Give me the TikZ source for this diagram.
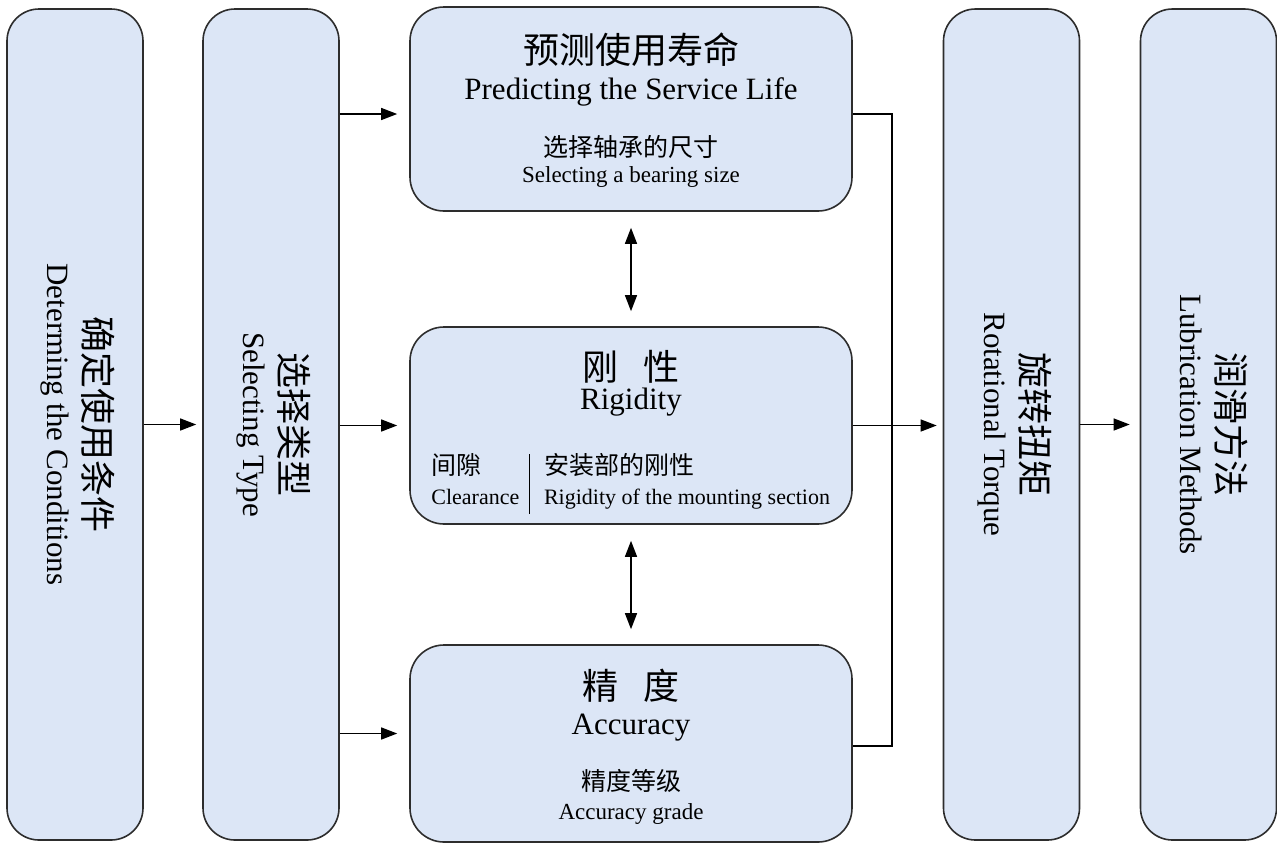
\documentclass[tikz,border=0pt]{standalone}
\usepackage{graphicx}
\usepackage{fontspec}
\setmainfont{Liberation Serif}
\newfontfamily\cjk{Noto Sans CJK SC}
\usetikzlibrary{arrows.meta}
\definecolor{boxfill}{RGB}{220,230,246}
\definecolor{boxline}{RGB}{45,45,45}
\tikzset{
colbox/.style={draw=boxline, fill=boxfill, line width=1.6pt,
  rounded corners=32pt, minimum width=136pt, minimum height=831pt, inner sep=0pt},
stagebox/.style={draw=boxline, fill=boxfill, line width=1.6pt,
  rounded corners=34pt, minimum width=442pt, minimum height=197pt, inner sep=0pt},
arr/.style={line width=1.3pt, -{Triangle[length=16pt,width=12pt]}},
dblarr/.style={line width=1.3pt,
  {Triangle[length=16pt,width=12pt]}-{Triangle[length=16pt,width=12pt]},
  shorten >=15pt, shorten <=16pt},
zhtitle/.style={font=\cjk\fontsize{36}{40}\selectfont, inner sep=0pt},
entitle/.style={font=\fontsize{31}{36}\selectfont, inner sep=0pt, anchor=base},
zhsub/.style={font=\cjk\fontsize{25}{30}\selectfont, inner sep=0pt},
ensub/.style={font=\fontsize{23}{28}\selectfont, inner sep=0pt, anchor=base}
}
\newcommand\coltext[2]{\rotatebox{-90}{\fontsize{36}{41}\selectfont
  \begin{tabular}{@{}c@{}}{\cjk #1}\\[-4pt]{\fontsize{31}{41}\selectfont #2}\end{tabular}}}

\begin{document}
\begin{tikzpicture}[x=1pt,y=-1pt]
\useasboundingbox (0,0) rectangle (1277,847);
% the boxes
\node[colbox] (cond) at (75,424.5) {\coltext{确定使用条件}{Determing the Conditions}};
\node[colbox] (seltype) at (271,424.5) {\coltext{选择类型}{Selecting Type}};
\node[stagebox, minimum height=204pt] (life) at (631,109) {};
\node[stagebox] (rigid) at (631,425.5) {};
\node[stagebox] (acc) at (631,743.5) {};
\node[colbox] (torque) at (1011.5,424.5) {\coltext{旋转扭矩}{Rotational Torque}};
\node[colbox] (lub) at (1208.5,424.5) {\coltext{润滑方法}{Lubrication Methods}};
% the texts
\node[zhtitle] (life-zh) at ([yshift=-43pt]life.north) {预测使用寿命};
\node[entitle] (life-en) at ([yshift=-93pt]life.north) {Predicting the Service Life};
\node[zhsub] (size-zh) at ([yshift=-141pt]life.north) {选择轴承的尺寸};
\node[ensub] (size-en) at ([yshift=-176pt]life.north) {Selecting a bearing size};
\node[zhtitle] (rigid-zh) at ([yshift=-41pt]rigid.north) {刚\hspace{26pt}性};
\node[entitle] (rigid-en) at ([yshift=-83pt]rigid.north) {Rigidity};
\node[inner sep=0pt, anchor=base west] (gap) at ([xshift=22pt,yshift=-148.5pt]rigid.north west)
  {\fontsize{25}{30}\selectfont\setlength\arrayrulewidth{1.4pt}%
   \begin{tabular}[t]{@{}l@{\hspace{10pt}}|@{\hspace{14pt}}l@{}}
   {\cjk 间隙} & {\cjk 安装部的刚性}\\
   {\fontsize{22}{30}\selectfont Clearance} & {\fontsize{22}{30}\selectfont Rigidity of the mounting section}
   \end{tabular}};
\node[zhtitle] (acc-zh) at ([yshift=-42pt]acc.north) {精\hspace{26pt}度};
\node[entitle] (acc-en) at ([yshift=-90pt]acc.north) {Accuracy};
\node[zhsub] (grade-zh) at ([yshift=-137pt]acc.north) {精度等级};
\node[ensub] (grade-en) at ([yshift=-175pt]acc.north) {Accuracy grade};
% the arrows
\coordinate (in-life) at ([yshift=-5pt]life.west);
\coordinate (in-acc) at ([yshift=10pt]acc.west);
\coordinate (bus) at (892,428);
\draw[arr, shorten >=6pt] (cond) -- (seltype);
\draw[arr, shorten >=12pt] (seltype.east |- in-life) -- (in-life);
\draw[arr, shorten >=12pt] (seltype.east |- rigid.west) -- (rigid.west);
\draw[arr, shorten >=12pt] (seltype.east |- in-acc) -- (in-acc);
\draw[dblarr] (life.south) -- (rigid.north);
\draw[dblarr] (rigid.south) -- (acc.north);
\draw[line width=1.3pt] ([yshift=-5pt]life.east) -| (bus) |- ([yshift=-2.5pt]acc.east);
\draw[arr, shorten >=6pt] (rigid.east) -- (rigid.east -| torque.west);
\draw[arr, shorten >=10pt] (torque) -- (lub);
\end{tikzpicture}
\end{document}
